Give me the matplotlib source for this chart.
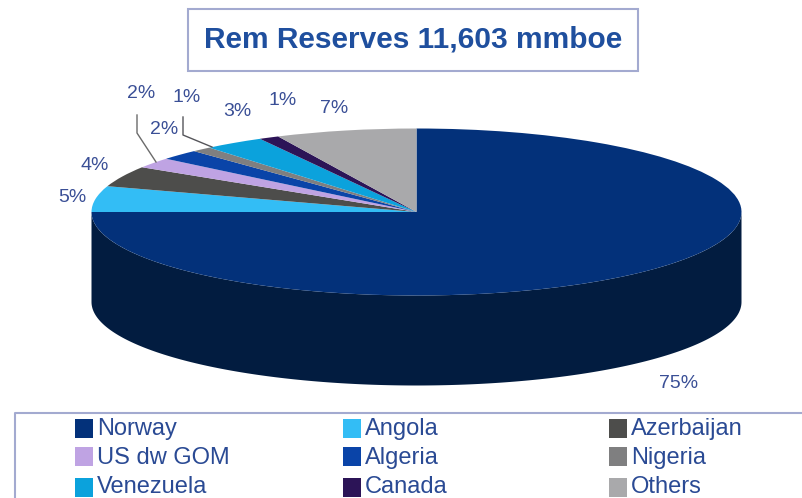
import numpy as np
import matplotlib
matplotlib.use("Agg")
import matplotlib.pyplot as plt
from matplotlib.patches import PathPatch, Rectangle
from matplotlib.path import Path

plt.rcParams['font.family'] = ['Liberation Sans', 'DejaVu Sans']

categories = ["Norway", "Angola", "Azerbaijan", "US dw GOM", "Algeria", "Nigeria", "Venezuela", "Canada", "Others"]
values = [75, 5, 4, 2, 2, 1, 3, 1, 7]
colors = ["#03317a", "#33bdf5", "#4d4d4b", "#bfa3e3", "#0a44a8", "#7f7f80", "#0ba2dc", "#2c1457", "#a9a9ab"]
label_xy = [(679, 383), (72, 197), (95, 165), (141, 93), (164, 129), (187, 97), (237, 111), (283, 100), (334, 108)]
title = "Rem Reserves 11,603 mmboe"

W, H = 803, 498
fig = plt.figure(figsize=(W/100, H/100), dpi=100, facecolor="white")

# pie axes: unit ellipse maps to the top face
cx, cy, rx, ry, depth = 416.5, 212, 325, 83.5, 90
ax = fig.add_axes([0, 0, 1, 1])
d = depth/ry

# extruded side of the pie, drawn beneath the top face
t = np.linspace(np.pi, 2*np.pi, 200)
xs = np.cos(t)
verts = np.r_[np.c_[xs, np.sin(t)-d], np.c_[xs[::-1], np.sin(t[::-1])], [[-1, -d]]]
ax.add_patch(PathPatch(Path(verts), fc='#021c40', ec='none', zorder=0.5))

ax.pie(values, colors=colors, startangle=90, counterclock=False, radius=1, center=(0, 0),
       wedgeprops=dict(linewidth=0, zorder=1), frame=False)
ax.set_aspect('auto')
ax.set_xlim(-cx/rx, (W-cx)/rx)
ax.set_ylim((cy-H)/ry, cy/ry)
ax.axis('off')

# overlay in pixel coordinates
ov = fig.add_axes([0, 0, 1, 1], facecolor='none')
ov.set_xlim(0, W); ov.set_ylim(H, 0); ov.axis('off')

ov.add_patch(Rectangle((188, 9), 450, 62, fc='white', ec='#a3aad0', lw=1.5))
ov.text(413.5, 39, title, ha='center', va='center', fontsize=21.5, fontweight='bold', color='#1f4f9e')

txt = '#3a4f96'
for (x, y), v in zip(label_xy, values):
    ov.text(x, y, f"{v}%", ha='center', va='center', fontsize=14, color=txt)

ov.plot([137, 137, 156], [115, 133, 162], color='#6b6b6b', lw=1)
ov.plot([183, 183, 212], [117, 135, 147], color='#55555a', lw=1)

ov.plot([W, 15, 15], [413, 413, H], color='#a3aad0', lw=1.5)
col_x = [75, 343, 609]
row_y = [428, 456, 487]
text_y = [429, 458, 487]
for i, (c, name) in enumerate(zip(colors, categories)):
    x, y = col_x[i % 3], row_y[i // 3]
    ov.add_patch(Rectangle((x, y-9.5), 18, 19, fc=c, ec='none'))
    ov.text(x+22, text_y[i // 3], name, ha='left', va='center', fontsize=17, color='#2a4a94')

fig.savefig("out.png", dpi=100)
